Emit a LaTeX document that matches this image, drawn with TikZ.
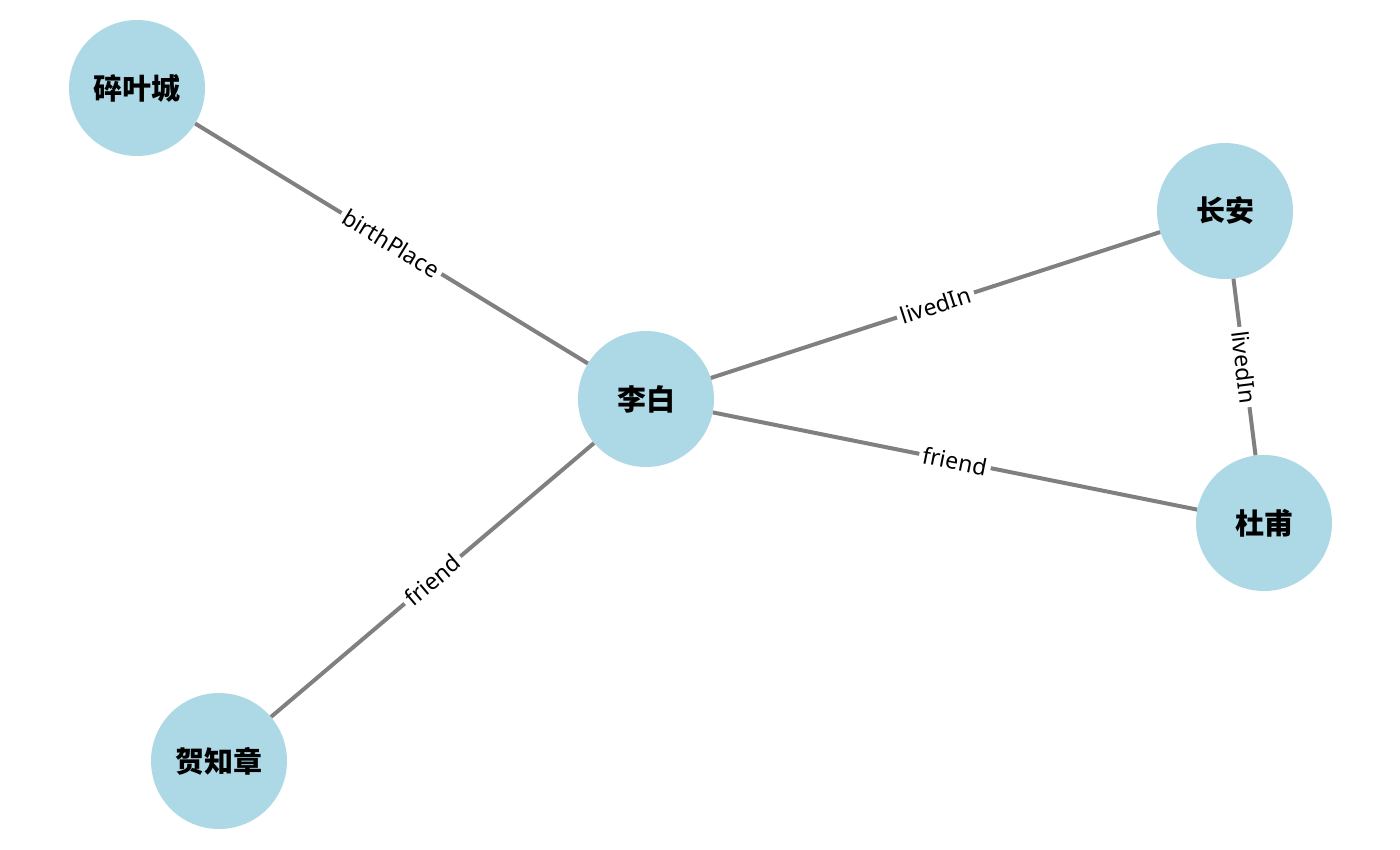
\documentclass[tikz,border=0pt]{standalone}
\usepackage{fontspec}
\setmainfont{Noto Sans}
\newfontfamily\cjk{Noto Sans CJK SC}
\definecolor{nodeblue}{HTML}{ADD8E6}
\begin{document}
\begin{tikzpicture}[x=1pt,y=-1pt,
  vert/.style={circle,fill=nodeblue,minimum size=136pt,inner sep=0pt,font=\cjk\bfseries\fontsize{29}{32}\selectfont},
  link/.style={draw=gray,line width=4pt},
  lbl/.style={sloped,midway,fill=white,inner sep=4pt,font=\fontsize{23}{26}\selectfont}]
\useasboundingbox (0,0) rectangle (1400,849);
\node[vert] (s) at (137,88) {碎叶城};
\node[vert] (l) at (646,399) {李白};
\node[vert] (c) at (1225,211) {长安};
\node[vert] (d) at (1264,523) {杜甫};
\node[vert] (h) at (219,761) {贺知章};
\draw[link] (s) -- node[lbl] {birthPlace} (l);
\draw[link] (l) -- node[lbl] {livedIn} (c);
\draw[link] (c) -- node[lbl] {livedIn} (d);
\draw[link] (l) -- node[lbl] {friend} (d);
\draw[link] (h) -- node[lbl] {friend} (l);
\end{tikzpicture}
\end{document}
